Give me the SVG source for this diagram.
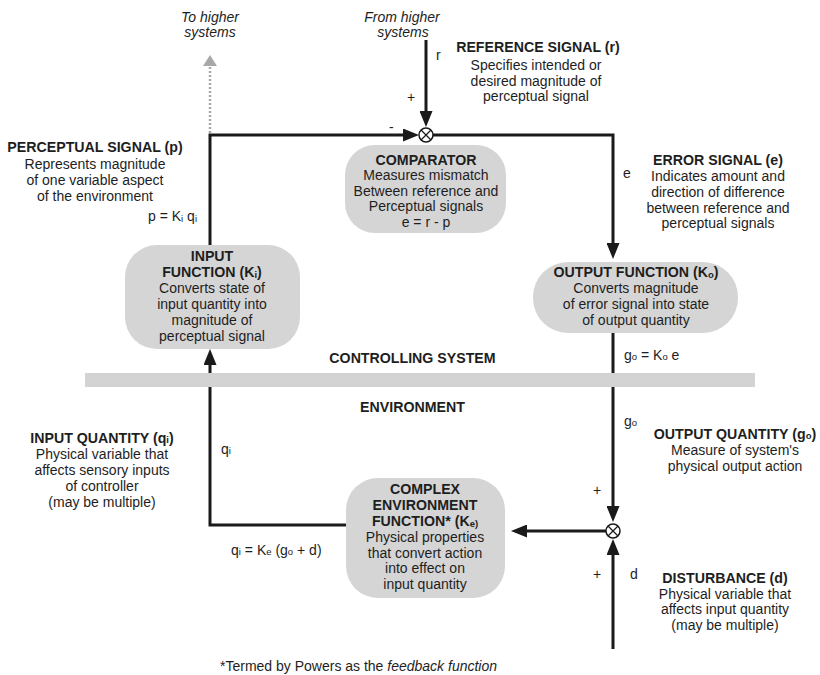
<svg xmlns="http://www.w3.org/2000/svg" width="820" height="675" viewBox="0 0 820 675">
<style>
text{font-family:"Liberation Sans",Arial,sans-serif;font-size:14px;fill:#1e1e1e}
.b{font-weight:bold;font-size:14.2px}
.c{text-anchor:middle}
.i{font-style:italic}
.s{font-size:9.5px}
.box{fill:#d5d5d5}
.ln{fill:none;stroke:#1a1a1a;stroke-width:3}
.dot{fill:none;stroke:#a8a8a8;stroke-width:2.5;stroke-dasharray:2 2}
.sum{fill:#fff;stroke:#1a1a1a;stroke-width:1.5}
</style>
<defs>
<marker id="arr" markerUnits="userSpaceOnUse" markerWidth="16" markerHeight="13" refX="4" refY="6.5" orient="auto">
<path d="M0,0 L16,6.5 L0,13 z" fill="#1a1a1a"/>
</marker>
<marker id="garr" markerUnits="userSpaceOnUse" markerWidth="12" markerHeight="14" refX="3" refY="7" orient="auto">
<path d="M0,0 L11,7 L0,14 z" fill="#a8a8a8"/>
</marker>
</defs>

<g id="connectors">
<path class="dot" d="M210,133 V63" marker-end="url(#garr)"/>
<path class="ln" d="M426,40 V115" marker-end="url(#arr)"/>
<path class="ln" d="M210,245 V135 H407" marker-end="url(#arr)"/>
<path class="ln" d="M433,135 H613 V247" marker-end="url(#arr)"/>
<path class="ln" d="M613,333 V510" marker-end="url(#arr)"/>
<path class="ln" d="M613,649 V551" marker-end="url(#arr)"/>
<path class="ln" d="M606,531 H523" marker-end="url(#arr)"/>
<path class="ln" d="M346,525 H210 V361" marker-end="url(#arr)"/>
</g>

<rect id="boundary" x="85" y="373" width="670" height="14" fill="#d3d3d3"/>

<g id="comparator-junction">
<circle class="sum" cx="426" cy="135" r="7"/>
<path d="M421,130 L431,140 M431,130 L421,140" stroke="#1a1a1a" stroke-width="1.3"/>
</g>
<g id="sum-junction">
<circle class="sum" cx="613" cy="531" r="7"/>
<path d="M608,526 L618,536 M618,526 L608,536" stroke="#1a1a1a" stroke-width="1.3"/>
</g>

<g id="comparator">
<rect class="box" x="345" y="145" width="161" height="88" rx="30"/>
<text class="b c" x="426" y="164.5">COMPARATOR</text>
<text class="c" x="426" y="180">Measures mismatch</text>
<text class="c" x="426" y="195.5">Between reference and</text>
<text class="c" x="426" y="211">Perceptual signals</text>
<text class="c" x="426" y="226.5">e = r - p</text>
</g>

<g id="input-function">
<rect class="box" x="125" y="245" width="175" height="104" rx="32"/>
<text class="b c" x="212" y="261">INPUT</text>
<text class="b c" x="212" y="277">FUNCTION (K<tspan class="s" dy="1">i</tspan><tspan dy="-1">)</tspan></text>
<text class="c" x="212" y="293">Converts state of</text>
<text class="c" x="212" y="309">input quantity into</text>
<text class="c" x="212" y="325">magnitude of</text>
<text class="c" x="212" y="341">perceptual signal</text>
</g>

<g id="output-function">
<rect class="box" x="533" y="262" width="205" height="71" rx="35"/>
<text class="b c" x="636" y="277">OUTPUT FUNCTION (K<tspan class="s" dy="1">o</tspan><tspan dy="-1">)</tspan></text>
<text class="c" x="636" y="293">Converts magnitude</text>
<text class="c" x="636" y="309">of error signal into state</text>
<text class="c" x="636" y="325">of output quantity</text>
</g>

<g id="environment-function">
<rect class="box" x="346" y="478" width="159" height="120" rx="32"/>
<text class="b c" x="425" y="494">COMPLEX</text>
<text class="b c" x="425" y="510">ENVIRONMENT</text>
<text class="b c" x="425" y="526">FUNCTION* (K<tspan class="s" dy="1">e)</tspan></text>
<text class="c" x="425" y="542">Physical properties</text>
<text class="c" x="425" y="557.5">that convert action</text>
<text class="c" x="425" y="573">into effect on</text>
<text class="c" x="425" y="589">input quantity</text>
</g>

<g id="labels">
<text class="i c" x="210" y="22">To higher</text>
<text class="i c" x="210" y="37">systems</text>
<text class="i c" x="402" y="22">From higher</text>
<text class="i c" x="403" y="37">systems</text>
<text x="436" y="60">r</text>
<text x="407" y="102">+</text>
<text x="389" y="132">-</text>

<text class="b c" x="538" y="52">REFERENCE SIGNAL (r)</text>
<text class="c" x="536" y="70">Specifies intended or</text>
<text class="c" x="536" y="86">desired magnitude of</text>
<text class="c" x="536" y="101">perceptual signal</text>

<text class="b c" x="95" y="152">PERCEPTUAL SIGNAL (p)</text>
<text class="c" x="95" y="168.5">Represents magnitude</text>
<text class="c" x="95" y="184.5">of one variable aspect</text>
<text class="c" x="95" y="200.5">of the environment</text>
<text x="197" y="221" text-anchor="end">p = K<tspan class="s" dy="1">i</tspan><tspan dy="-1"> q</tspan><tspan class="s" dy="1">i</tspan></text>

<text x="623" y="178">e</text>
<text class="b c" x="718" y="165">ERROR SIGNAL (e)</text>
<text class="c" x="718" y="181">Indicates amount and</text>
<text class="c" x="718" y="197">direction of difference</text>
<text class="c" x="718" y="212.5">between reference and</text>
<text class="c" x="718" y="228">perceptual signals</text>

<text x="624" y="360">g<tspan class="s">o</tspan> = K<tspan class="s">o</tspan> e</text>
<text class="b c" x="412.5" y="363">CONTROLLING SYSTEM</text>
<text class="b c" x="412.5" y="412">ENVIRONMENT</text>
<text x="624" y="426">g<tspan class="s">o</tspan></text>

<text class="b c" x="735" y="439">OUTPUT QUANTITY (g<tspan class="s">o</tspan>)</text>
<text class="c" x="735" y="455">Measure of system's</text>
<text class="c" x="735" y="471">physical output action</text>

<text class="b c" x="102" y="443">INPUT QUANTITY (q<tspan class="s">i</tspan>)</text>
<text class="c" x="102" y="459">Physical variable that</text>
<text class="c" x="102" y="475">affects sensory inputs</text>
<text class="c" x="102" y="491">of controller</text>
<text class="c" x="102" y="507">(may be multiple)</text>
<text x="221" y="454">q<tspan class="s">i</tspan></text>
<text x="231" y="555">q<tspan class="s">i</tspan> = K<tspan class="s">e</tspan> (g<tspan class="s">o</tspan> + d)</text>

<text x="593" y="495">+</text>
<text x="593" y="579">+</text>
<text x="630" y="579">d</text>

<text class="b c" x="725" y="583">DISTURBANCE (d)</text>
<text class="c" x="725" y="598.5">Physical variable that</text>
<text class="c" x="725" y="614">affects input quantity</text>
<text class="c" x="725" y="630">(may be multiple)</text>

<text x="220" y="671">*Termed by Powers as the <tspan class="i">feedback function</tspan></text>
</g>
</svg>
